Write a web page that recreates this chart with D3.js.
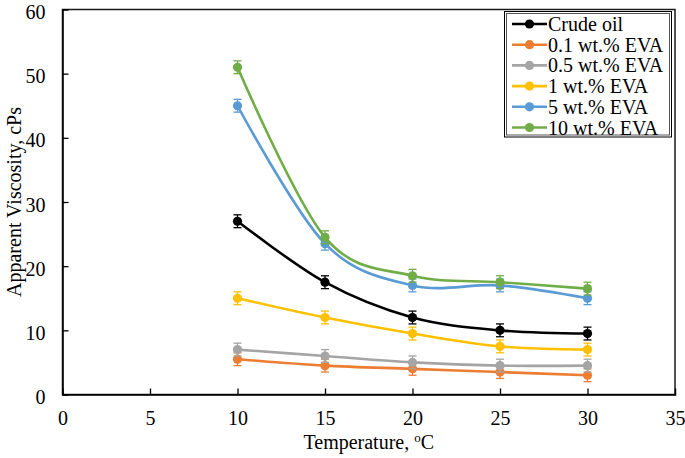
<!DOCTYPE html>
<html>
<head>
<meta charset="utf-8">
<script src="https://cdn.jsdelivr.net/npm/d3@7"></script>
<style>
  html, body { margin: 0; padding: 0; background: #fff; }
  svg { display: block; }
  text { font-family: "Liberation Serif", "Times New Roman", serif; fill: #000; }
</style>
</head>
<body>
<svg id="chart" width="685" height="458"></svg>
<script>
// ---- data ----
const temperatures = [10, 15, 20, 25, 30];
const seriesNames = ["Crude oil", "0.1 wt.% EVA", "0.5 wt.% EVA", "1 wt.% EVA", "5 wt.% EVA", "10 wt.% EVA"];
const crudeOil = [27, 17.5, 12, 10, 9.5];
const eva01 = [5.5, 4.5, 4, 3.5, 3];
const eva05 = [7, 6, 5, 4.5, 4.5];
const eva1 = [15, 12, 9.5, 7.5, 7];
const eva5 = [45, 23.5, 17, 17, 15];
const eva10 = [51, 24.5, 18.5, 17.5, 16.5];
const errorBar = [1, 1, 1, 1, 1];
const seriesColors = ["#000000", "#ED7D31", "#A5A5A5", "#FFC000", "#5B9BD5", "#70AD47"];
const xTicks = [0, 5, 10, 15, 20, 25, 30, 35];
const yTicks = [0, 10, 20, 30, 40, 50, 60];

const seriesValues = [crudeOil, eva01, eva05, eva1, eva5, eva10];
const series = seriesNames.map((name, i) => ({
  name, color: seriesColors[i],
  points: temperatures.map((t, j) => ({ x: t, y: seriesValues[i][j], e: errorBar[j] }))
}));

// ---- layout ----
const FONT = "'Liberation Serif', 'Times New Roman', serif";
const svg = d3.select("#chart");
const pL = 62.5, pR = 675, pT = 9.5, pB = 394.5;
const x = d3.scaleLinear().domain([0, 35]).range([pL, pR]);
const y = d3.scaleLinear().domain([0, 60]).range([pB, pT]);

// plot border
svg.append("rect")
  .attr("x", pL).attr("y", pT)
  .attr("width", pR - pL).attr("height", pB - pT)
  .attr("fill", "none").attr("stroke", "#1a1a1a").attr("stroke-width", 1.5);

// axes
const xAxis = svg.append("g").attr("transform", `translate(0,${pB})`)
  .call(d3.axisBottom(x).tickValues(xTicks).tickSize(-6).tickPadding(16).tickFormat(d3.format("d")));
const yAxis = svg.append("g").attr("transform", `translate(${pL},0)`)
  .call(d3.axisLeft(y).tickValues(yTicks).tickSize(-6).tickPadding(17).tickFormat(d3.format("d")));
[xAxis, yAxis].forEach(a => {
  a.attr("font-family", null).attr("font-size", null);
  a.select(".domain").attr("stroke", "#000").attr("stroke-width", 1.5);
  a.selectAll(".tick line").attr("stroke", "#000").attr("stroke-width", 1.3);
  a.selectAll(".tick text").style("font-family", FONT).style("font-size", "20px").attr("fill", "#000");
});
yAxis.selectAll(".tick text").attr("dy", "0.45em");
xAxis.selectAll(".tick line").filter(d => d === 0 || d === 35).remove();
yAxis.selectAll(".tick line").filter(d => d === 0 || d === 60).remove();

// axis titles
const xt = svg.append("text").attr("x", (pL + pR) / 2).attr("y", 449)
  .attr("text-anchor", "middle").style("font-family", FONT).style("font-size", "20px");
xt.append("tspan").text("Temperature, ");
xt.append("tspan").text("o").attr("dy", -7).style("font-size", "13px");
xt.append("tspan").text("C").attr("dy", 7);

svg.append("text")
  .attr("transform", `translate(21,${(pT + pB) / 2}) rotate(-90)`)
  .attr("text-anchor", "middle").style("font-family", FONT).style("font-size", "20px")
  .text("Apparent Viscosity, cPs");

// lines
const line = d3.line().x(d => x(d.x)).y(d => y(d.y)).curve(d3.curveCatmullRom.alpha(0));
const capW = 4;
series.forEach(s => {
  const g = svg.append("g");
  g.append("path").attr("d", line(s.points))
    .attr("fill", "none").attr("stroke", s.color).attr("stroke-width", 2.6);
  const eb = g.selectAll(".eb").data(s.points).enter().append("g");
  eb.append("line").attr("x1", d => x(d.x)).attr("x2", d => x(d.x))
    .attr("y1", d => y(d.y - d.e)).attr("y2", d => y(d.y + d.e))
    .attr("stroke", s.color).attr("stroke-width", 1.3);
  eb.append("line").attr("x1", d => x(d.x) - capW).attr("x2", d => x(d.x) + capW)
    .attr("y1", d => y(d.y + d.e)).attr("y2", d => y(d.y + d.e))
    .attr("stroke", s.color).attr("stroke-width", 1.3);
  eb.append("line").attr("x1", d => x(d.x) - capW).attr("x2", d => x(d.x) + capW)
    .attr("y1", d => y(d.y - d.e)).attr("y2", d => y(d.y - d.e))
    .attr("stroke", s.color).attr("stroke-width", 1.3);
  g.selectAll("circle").data(s.points).enter().append("circle")
    .attr("cx", d => x(d.x)).attr("cy", d => y(d.y)).attr("r", 4.6)
    .attr("fill", s.color);
});

// legend
const lg = svg.append("g");
lg.append("rect").attr("x", 504.5).attr("y", 11.5).attr("width", 167).attr("height", 125.5)
  .attr("fill", "#fff").attr("stroke", "#000").attr("stroke-width", 1);
lg.append("rect").attr("x", 506.5).attr("y", 13.5).attr("width", 163).attr("height", 121.5)
  .attr("fill", "none").attr("stroke", "#555").attr("stroke-width", 1);
series.forEach((s, i) => {
  const cy = 24 + i * 20.7;
  lg.append("line").attr("x1", 512).attr("x2", 547).attr("y1", cy).attr("y2", cy)
    .attr("stroke", s.color).attr("stroke-width", 2.6);
  lg.append("circle").attr("cx", 529.5).attr("cy", cy).attr("r", 4.6).attr("fill", s.color);
  lg.append("text").attr("x", 548).attr("y", cy).attr("dy", "0.35em")
    .style("font-family", FONT).style("font-size", "20px").text(s.name);
});
</script>
</body>
</html>
